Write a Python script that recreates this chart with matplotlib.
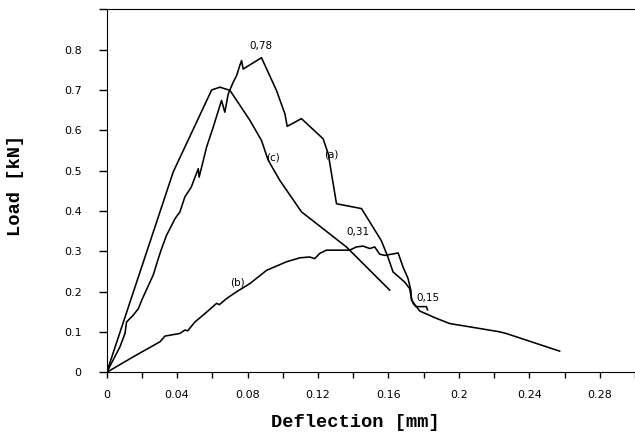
import matplotlib
matplotlib.use("Agg")
import matplotlib.pyplot as plt

# Curve (a)
a_x = [0, 0.0075, 0.0104, 0.0113, 0.0151, 0.018, 0.0199, 0.0246, 0.0264, 0.0293, 0.0312,
       0.034, 0.0359, 0.0388, 0.0416, 0.0444, 0.048, 0.052, 0.0525, 0.0558, 0.0567, 0.0605,
       0.0652, 0.0671, 0.069, 0.0718, 0.0738, 0.0756, 0.0766, 0.0775, 0.0879, 0.0964,
       0.1012, 0.1025, 0.1106, 0.1229, 0.1258, 0.1305, 0.1447, 0.1559, 0.1597, 0.1626,
       0.1692, 0.172, 0.1731, 0.174, 0.1755, 0.1815, 0.1822]
a_y = [0, 0.063, 0.0965, 0.125, 0.142, 0.158, 0.179, 0.224, 0.241, 0.282, 0.307,
       0.34, 0.356, 0.381, 0.398, 0.435, 0.459, 0.505, 0.484, 0.542, 0.558, 0.608,
       0.674, 0.645, 0.69, 0.719, 0.736, 0.761, 0.773, 0.752, 0.78, 0.699,
       0.641, 0.61, 0.629, 0.579, 0.542, 0.418, 0.406, 0.327, 0.286, 0.249,
       0.224, 0.208, 0.183, 0.171, 0.163, 0.163, 0.155]

# Curve (b)
b_x = [0, 0.0151, 0.0303, 0.0331, 0.0416, 0.0444, 0.0460, 0.0501, 0.0548, 0.0624, 0.0640,
       0.0681, 0.0738, 0.0813, 0.0908, 0.102, 0.1097, 0.1153, 0.1181, 0.121, 0.1248,
       0.138, 0.1418, 0.1456, 0.1494, 0.1522, 0.155, 0.158, 0.1655, 0.1683, 0.1711,
       0.1727, 0.1731, 0.1778, 0.1872, 0.1948, 0.206, 0.2232, 0.2268, 0.2572]
b_y = [0, 0.0386, 0.076, 0.09, 0.0965, 0.105, 0.103, 0.125, 0.142, 0.171, 0.168,
       0.183, 0.2, 0.22, 0.253, 0.274, 0.284, 0.286, 0.282, 0.295, 0.303,
       0.303, 0.311, 0.313, 0.307, 0.311, 0.293, 0.29, 0.296, 0.261, 0.233,
       0.204, 0.179, 0.152, 0.134, 0.121, 0.113, 0.1005, 0.0965, 0.0527]

# Curve (c)
c_x = [0, 0.0378, 0.0596, 0.0643, 0.070, 0.0813, 0.0879, 0.0917, 0.0983, 0.1106,
       0.1361, 0.1607]
c_y = [0, 0.497, 0.700, 0.707, 0.699, 0.625, 0.575, 0.526, 0.476, 0.398,
       0.311, 0.204]

x_ticks = [0, 0.04, 0.08, 0.12, 0.16, 0.2, 0.24, 0.28]
x_tick_labels = ["0", "0.04", "0.08", "0.12", "0.16", "0.2", "0.24", "0.28"]
y_ticks = [0, 0.1, 0.2, 0.3, 0.4, 0.5, 0.6, 0.7, 0.8, 0.9]
y_tick_labels = ["0", "0.1", "0.2", "0.3", "0.4", "0.5", "0.6", "0.7", "0.8", ""]

annotations = [("0,78", 0.0875, 0.81), ("(c)", 0.0945, 0.532), ("(a)", 0.1276, 0.54),
               ("0,31", 0.1428, 0.348), ("(b)", 0.0743, 0.224), ("0,15", 0.1825, 0.185)]

fig = plt.figure(figsize=(6.35, 4.33), dpi=100)
ax = fig.add_axes([0.168, 0.140, 0.832, 0.8385])

for xs, ys in [(a_x, a_y), (b_x, b_y), (c_x, c_y)]:
    ax.plot(xs, ys, color="black", lw=1.15)

ax.set_xlim(0, 0.30)
ax.set_ylim(0, 0.9)
ax.spines["right"].set_visible(False)
ax.set_xticks(x_ticks)
ax.set_xticklabels(x_tick_labels, family="DejaVu Sans", fontsize=8)
ax.set_xticks([0.02, 0.06, 0.10, 0.14, 0.18, 0.22, 0.26, 0.30], minor=True)
ax.set_yticks(y_ticks)
ax.set_yticklabels(y_tick_labels, family="DejaVu Sans", fontsize=8)
ax.tick_params(axis="x", which="both", direction="out", length=4, width=1, pad=9)
ax.tick_params(axis="y", direction="out", length=6, width=1, pad=12)

for t, x, y in annotations:
    ax.text(x, y, t, family="DejaVu Sans", fontsize=7.5, ha="center", va="center")

ax.set_xlabel("Deflection [mm]", family="Liberation Mono", fontweight="bold",
              fontsize=13.5)
ax.set_ylabel("Load [kN]", family="Liberation Mono", fontweight="bold",
              fontsize=13.5)
ax.xaxis.set_label_coords(0.47, -0.115)
ax.yaxis.set_label_coords(-0.157, 0.515)

fig.savefig("out.png", dpi=100)
